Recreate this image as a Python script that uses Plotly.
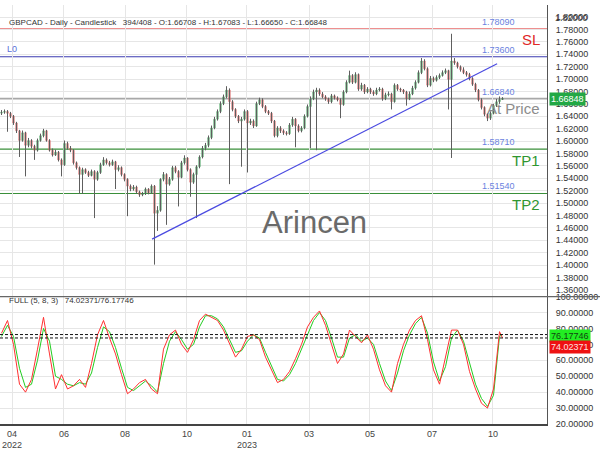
import plotly.graph_objects as go

# ---------------- data ----------------
closes = [1.6463,1.6478,1.6447,1.6400,1.6291,1.6165,1.6009,1.6134,1.5931,1.6009,
 1.5915,1.5852,1.6009,1.6087,1.6165,1.6009,1.5852,1.5774,1.5821,1.5696,
 1.5618,1.5962,1.5884,1.5852,1.5649,1.5571,1.5461,1.5539,1.5493,1.5446,
 1.5508,1.5383,1.5493,1.5618,1.5696,1.5649,1.5618,1.5665,1.5539,1.5571,
 1.5461,1.5383,1.5273,1.5226,1.5258,1.5180,1.5133,1.5148,1.5226,1.5164,
 1.5273,1.4835,1.4882,1.5383,1.5461,1.5305,1.5383,1.5571,1.5508,1.5414,
 1.5649,1.5727,1.5539,1.5336,1.5461,1.5586,1.5743,1.5884,1.5931,1.6056,
 1.6212,1.6353,1.6478,1.6604,1.6713,1.6823,1.6635,1.6510,1.6400,1.6322,
 1.6353,1.6478,1.6291,1.6322,1.6244,1.6604,1.6666,1.6557,1.6478,1.6447,
 1.6322,1.6087,1.6212,1.6165,1.6134,1.6119,1.6259,1.6353,1.6244,1.6165,
 1.6212,1.6400,1.6557,1.6682,1.6791,1.6823,1.6760,1.6713,1.6682,1.6635,
 1.6729,1.6698,1.6666,1.6588,1.6791,1.6948,1.7058,1.6948,1.7073,1.6838,
 1.6901,1.6791,1.6838,1.6791,1.6760,1.6823,1.6838,1.6682,1.6745,1.6760,
 1.6635,1.6901,1.6838,1.6823,1.6791,1.6682,1.6760,1.6854,1.6948,1.7104,
 1.7292,1.7167,1.6901,1.7011,1.6979,1.7026,1.7058,1.7104,1.7136,1.6995,
 1.7292,1.7261,1.7198,1.7151,1.7104,1.7073,1.7011,1.6917,1.6823,1.6666,
 1.6541,1.6432,1.6369,1.6447,1.6572,1.6635,1.66708,1.66848]

first_open = 1.6450

highs = [1.6500,1.6510,1.6500,1.6470,1.6420,1.6310,1.6180,1.6170,1.6150,1.6050,
 1.6030,1.5940,1.6040,1.6120,1.6197,1.6180,1.6030,1.5880,1.5860,1.5840,
 1.5720,1.6009,1.5990,1.5920,1.5870,1.5670,1.5590,1.5570,1.5560,1.5520,
 1.5540,1.5530,1.5520,1.5650,1.5740,1.5720,1.5680,1.5700,1.5680,1.5610,
 1.5590,1.5480,1.5400,1.5300,1.5290,1.5280,1.5200,1.5180,1.5250,1.5240,
 1.5300,1.5290,1.4950,1.5400,1.5500,1.5480,1.5420,1.5600,1.5600,1.5530,
 1.5680,1.5770,1.5740,1.5560,1.5490,1.5610,1.5770,1.5920,1.5970,1.6090,
 1.6250,1.6390,1.6510,1.6640,1.6750,1.6885,1.6850,1.6660,1.6530,1.6420,
 1.6390,1.6510,1.6500,1.6360,1.6350,1.6635,1.6700,1.6690,1.6580,1.6500,
 1.6470,1.6340,1.6240,1.6240,1.6190,1.6160,1.6290,1.6390,1.6370,1.6270,
 1.6240,1.6430,1.6590,1.6720,1.6830,1.6860,1.6850,1.6790,1.6740,1.6700,
 1.6760,1.6750,1.6720,1.6690,1.6820,1.6980,1.7136,1.7080,1.7110,1.7090,
 1.6940,1.6920,1.6870,1.6860,1.6820,1.6860,1.6870,1.6860,1.6780,1.6800,
 1.6780,1.6930,1.6920,1.6860,1.6840,1.6810,1.6800,1.6890,1.6980,1.7140,
 1.7339,1.7320,1.7190,1.7050,1.7040,1.7060,1.7090,1.7140,1.7170,1.7150,
 1.7731,1.7339,1.7280,1.7220,1.7190,1.7130,1.7100,1.7030,1.6940,1.6840,
 1.6690,1.6560,1.6450,1.6480,1.6600,1.6680,1.6720,1.67083]

lows = [1.6420,1.6440,1.6150,1.6370,1.6260,1.6130,1.5743,1.5990,1.5430,1.5900,
 1.5880,1.5696,1.5830,1.5990,1.6060,1.5990,1.5830,1.5750,1.5760,1.5670,
 1.5430,1.5600,1.5860,1.5820,1.5620,1.5540,1.5148,1.5148,1.5470,1.5420,
 1.5430,1.4757,1.5360,1.5470,1.5600,1.5620,1.5590,1.5600,1.5226,1.5510,
 1.5430,1.5350,1.4788,1.5190,1.5200,1.5150,1.5100,1.5110,1.5130,1.5140,
 1.5150,1.4006,1.4550,1.4860,1.5350,1.4648,1.5280,1.5360,1.5480,1.4945,
 1.5400,1.5620,1.5510,1.5101,1.5310,1.4757,1.5560,1.5720,1.5850,1.5900,
 1.6030,1.6190,1.6330,1.6450,1.6580,1.6690,1.5305,1.6480,1.6370,1.6290,
 1.5586,1.6330,1.5493,1.6260,1.6210,1.6230,1.6580,1.6530,1.6450,1.6420,
 1.6290,1.6060,1.6060,1.6130,1.6100,1.6090,1.6100,1.6230,1.5900,1.6140,
 1.6140,1.6190,1.6380,1.5884,1.6660,1.5852,1.6730,1.6690,1.6650,1.6600,
 1.6610,1.6670,1.6640,1.6369,1.6570,1.6770,1.6930,1.6920,1.6930,1.6810,
 1.6810,1.6760,1.6770,1.6760,1.6730,1.6740,1.6800,1.6650,1.6660,1.6720,
 1.6510,1.6620,1.6810,1.6790,1.6760,1.6572,1.6660,1.6740,1.6830,1.6930,
 1.7080,1.7140,1.6870,1.6880,1.6950,1.6960,1.7000,1.7040,1.7080,1.6510,
 1.5727,1.7230,1.7170,1.7120,1.7080,1.7040,1.6980,1.6890,1.6790,1.6640,
 1.6510,1.6400,1.6322,1.6340,1.6430,1.6550,1.6600,1.66650]

# Full stochastic (5, 8, 3): %K (red) and %D (green), one reading every 2 bars + last bar
stoch_k = [77,85,70,45,40,48,67,87,64,42, 51,42,44,48,43,58,76,85,74,64,
 51,39,42,46,48,42,39,67,76,79, 70,65,73,85,89,87,85,79,70,62,
 67,75,76,73,62,54,46,48,53,61, 70,81,87,91,82,70,58,64,79,75,
 71,76,67,54,44,40,58,70,79,85, 88,73,54,45,61,79,79,70,53,42,
 33,30,42,78,74.02371]
stoch_d = [75,82,75,55,43,45,60,80,72,50, 48,45,44,46,45,52,68,81,78,68,
 55,43,41,44,47,44,40,58,72,78, 73,67,70,81,88,88,86,81,73,65,
 66,72,76,74,65,57,48,47,51,58, 67,77,85,90,85,74,62,62,74,76,
 72,74,70,58,47,41,52,66,76,83, 87,77,59,47,56,74,79,72,58,45,
 36,31,38,75,76.17746]

# Horizontal levels
level_names  = ["SL", "L0", "At Price", "TP1", "TP2"]
level_values = [1.78090, 1.73600, 1.66840, 1.58710, 1.51540]

# Trend line (bar index, price)
trend_bars   = [50.2, 165.2]
trend_prices = [1.4418, 1.7247]

# Time axis tick labels (bar index where the label sits)
tick_bars   = [3.5, 20.8, 41.2, 61.8, 81.8, 102.5, 122.8, 143.5, 163.8]
tick_labels = ["04<br>2022", "06", "08", "10", "01<br>2023", "03", "05", "07", "10"]

price_ticks = [round(1.36 + 0.02 * i, 2) for i in range(23)]
stoch_ticks = [20, 30, 40, 50, 60, 70, 80, 90, 100]

# ---------------- figure ----------------
FONT = "Liberation Sans, Arial, sans-serif"
n = len(closes)
bars = list(range(n))
opens = [first_open] + closes[:-1]
body_hi = [max(o, c) for o, c in zip(opens, closes)]
body_lo = [min(o, c) for o, c in zip(opens, closes)]
hi = [max(h, b) for h, b in zip(highs, body_hi)]
lo = [min(l, b) for l, b in zip(lows, body_lo)]

wx, wy = [], []
for i in bars:
    wx += [i, i, None]
    wy += [hi[i], lo[i], None]

fig = go.Figure()
fig.add_trace(go.Scatter(x=wx, y=wy, mode="lines", line=dict(color="#5e5e5e", width=1),
                         hoverinfo="skip", showlegend=False, xaxis="x", yaxis="y"))
fig.add_trace(go.Candlestick(x=bars, open=opens, close=closes, high=body_hi, low=body_lo,
                             increasing=dict(line=dict(color="#3f9b57", width=0.5), fillcolor="#57b36e"),
                             decreasing=dict(line=dict(color="#d65c5c", width=0.5), fillcolor="#e07070"),
                             whiskerwidth=0, showlegend=False, xaxis="x", yaxis="y"))
fig.add_trace(go.Scatter(x=trend_bars, y=trend_prices, mode="lines",
                         line=dict(color="#4a4ae0", width=1.2), showlegend=False,
                         hoverinfo="skip", xaxis="x", yaxis="y"))

stoch_x = list(range(0, n - 1, 2)) + [n - 1]
fig.add_trace(go.Scatter(x=stoch_x, y=stoch_d, mode="lines", line=dict(color="#22cc22", width=1),
                         showlegend=False, xaxis="x2", yaxis="y2"))
fig.add_trace(go.Scatter(x=stoch_x, y=stoch_k, mode="lines", line=dict(color="#ff3030", width=1),
                         showlegend=False, xaxis="x2", yaxis="y2"))

# level lines
level_colors = ["#e86a6a", "#3b3bb0", "#a8a8a8", "#3a8f3a", "#3a8f3a"]
level_widths = [1.5, 1.2, 1.6, 1.2, 1.2]
for v, c, w in zip(level_values, level_colors, level_widths):
    fig.add_shape(type="line", xref="paper", yref="y", x0=0, x1=1, y0=v, y1=v,
                  line=dict(color=c, width=w), layer="below")

# stochastic current value dashed lines
for v in [stoch_d[-1], stoch_k[-1]]:
    fig.add_shape(type="line", xref="paper", yref="y2", x0=0, x1=1, y0=v, y1=v,
                  line=dict(color="#111111", width=1, dash="3px,2px"))

PLOT_W = 547
# separator between panels (extends into the axis area)
fig.add_shape(type="line", xref="paper", yref="paper", x0=0, x1=600 / PLOT_W, y0=0.304, y1=0.304,
              line=dict(color="#666666", width=1.2))

ann = []
label_x = 165.5
for v in level_values:
    ann.append(dict(x=label_x, y=v, xref="x", yref="y", text=f"{v:.5f}", showarrow=False,
                    yshift=7, font=dict(family=FONT, size=9, color="#6a82e0")))
big = [("SL", level_values[0], "#e02828", -11), ("At Price", level_values[2], "#8c8c8c", -10),
       ("TP1", level_values[3], "#2f962f", -11), ("TP2", level_values[4], "#2f962f", -11)]
for t, v, c, s in big:
    ann.append(dict(x=542 / PLOT_W, y=v, xref="paper", yref="y", text=t, showarrow=False,
                    xanchor="right", yshift=s, font=dict(family=FONT, size=15, color=c)))
ann.append(dict(x=5 / PLOT_W, y=level_values[1], xref="paper", yref="y", text="L0", showarrow=False,
                xanchor="left", yshift=8, font=dict(family=FONT, size=9, color="#5a6fd8")))
ann.append(dict(x=314 / PLOT_W, y=1.469, xref="paper", yref="y", text="Arincen", showarrow=False,
                font=dict(family=FONT, size=31, color="#6a6a6a")))
ann.append(dict(x=7 / PLOT_W, y=1 - 11 / 432, xref="paper", yref="paper", xanchor="left",
                text="GBPCAD - Daily - Candlestick   394/408 - O:1.66708 - H:1.67083 - L:1.66650 - C:1.66848",
                showarrow=False, font=dict(family=FONT, size=8, color="#333333")))
ann.append(dict(x=7 / PLOT_W, y=1 - 311 / 432, xref="paper", yref="paper", xanchor="left",
                text=f"FULL (5, 8, 3)   {stoch_k[-1]:.5f}/{stoch_d[-1]:.5f}",
                showarrow=False, font=dict(family=FONT, size=8, color="#333333")))
# top edge axis label
ann.append(dict(x=1, y=1 - 6 / 432, xref="paper", yref="paper", xanchor="left", xshift=6,
                text="1.82000", showarrow=False, font=dict(family=FONT, size=9, color="#333333")))
# price tag
ann.append(dict(x=1, y=closes[-1], xref="paper", yref="y", xanchor="left", xshift=2,
                text=f"{closes[-1]:.5f}", showarrow=False, bgcolor="#22a845", borderpad=1,
                font=dict(family=FONT, size=9, color="#ffffff")))
# stochastic tags
ann.append(dict(x=1, y=stoch_d[-1], xref="paper", yref="y2", xanchor="left", xshift=2, yshift=-1,
                text=f"{stoch_d[-1]:.5f}", showarrow=False, bgcolor="#22ee22", borderpad=1,
                font=dict(family=FONT, size=9, color="#114411")))
ann.append(dict(x=1, y=stoch_k[-1], xref="paper", yref="y2", xanchor="left", xshift=2, yshift=-9,
                text=f"{stoch_k[-1]:.5f}", showarrow=False, bgcolor="#ee1111", borderpad=1,
                font=dict(family=FONT, size=9, color="#ffe0e0")))

grid = "#e6e6e6"
fig.update_layout(
    width=600, height=450,
    margin=dict(l=0, r=53, t=0, b=18),
    paper_bgcolor="white", plot_bgcolor="white",
    showlegend=False,
    font=dict(family=FONT, size=9, color="#333333"),
    annotations=ann,
    xaxis=dict(domain=[0, 1], anchor="y", range=[-0.5, 181.83], tickvals=tick_bars,
               showticklabels=False, showgrid=True, gridcolor=grid, zeroline=False,
               rangeslider=dict(visible=False), matches="x2"),
    xaxis2=dict(domain=[0, 1], anchor="y2", range=[-0.5, 181.83], tickvals=tick_bars,
                ticktext=tick_labels, showgrid=True, gridcolor=grid, zeroline=False,
                showline=True, linecolor="#444444", linewidth=1.5, ticks="",
                tickfont=dict(family=FONT, size=9, color="#444444")),
    yaxis=dict(domain=[0.304, 1], anchor="x", side="right", range=[1.3490, 1.8195],
               tickvals=price_ticks, ticktext=[f"{v:.5f}" for v in price_ticks],
               showgrid=True, gridcolor=grid, zeroline=False, showline=True,
               linecolor="#555555", linewidth=1, ticks="", ticklabelstandoff=6,
               tickfont=dict(family=FONT, size=9, color="#333333")),
    yaxis2=dict(domain=[0, 0.304], anchor="x2", side="right", range=[20, 100],
                tickvals=stoch_ticks, ticktext=[f"{v:.5f}" for v in stoch_ticks],
                showgrid=True, gridcolor=grid, zeroline=False, showline=True,
                linecolor="#555555", linewidth=1, ticks="", ticklabelstandoff=6,
                tickfont=dict(family=FONT, size=9, color="#333333")),
)

fig.write_html("out.html")
